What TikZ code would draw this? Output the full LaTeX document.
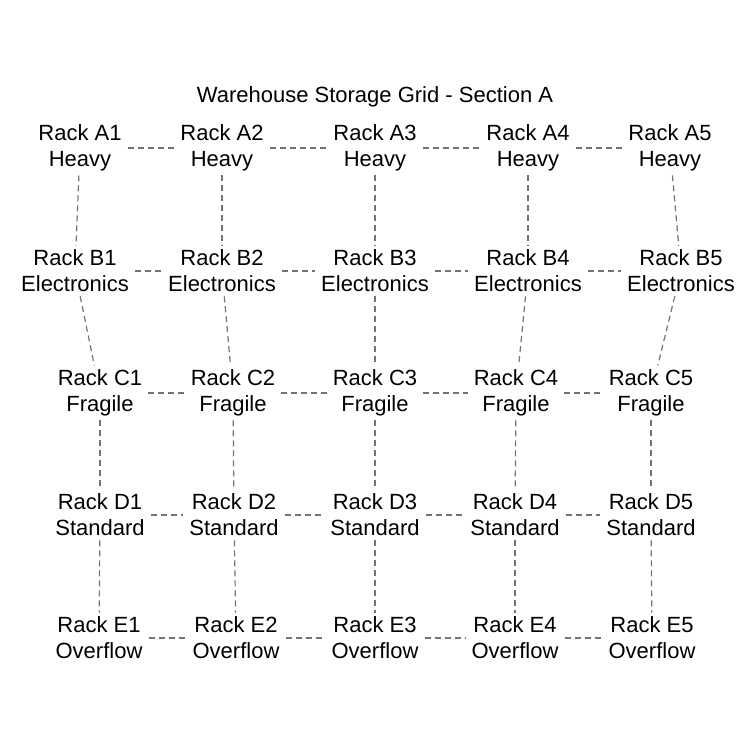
\documentclass[tikz,border=0pt]{standalone}
\usepackage{fontspec}
\setmainfont{Liberation Sans}
\begin{document}
\begin{tikzpicture}[x=1pt,y=-1pt,
  rack/.style={align=center,inner xsep=6pt,inner ysep=4pt,font=\fontsize{22}{26}\selectfont},
  link/.style={draw=black!55,dash pattern=on 6pt off 4pt,line width=1.2pt}]
\useasboundingbox (0,0) rectangle (750,750);
\node[font=\fontsize{22}{26}\selectfont] (title) at (375,97) {Warehouse Storage Grid - Section A};
\foreach \r/\lab/\y/\xs in {A/Heavy/148/{80,222,375,528,670},
  B/Electronics/271/{75,222,375,528,681},
  C/Fragile/393/{100,233,375,516,651},
  D/Standard/515/{100,234,375,515,651},
  E/Overflow/638/{99,236,375,515,652}}{
  \foreach \x [count=\i] in \xs {
    \node[rack] (\r\i) at (\x,\y) {Rack \r\i\\\lab};
  }
}
\foreach \r in {A,B,C,D,E}{
  \foreach \i/\j in {1/2,2/3,3/4,4/5}{
    \draw[link] (\r\i) -- (\r\j);
  }
}
\foreach \r/\s in {A/B,B/C,C/D,D/E}{
  \foreach \i in {1,...,5}{
    \draw[link] (\r\i) -- (\s\i);
  }
}
\end{tikzpicture}
\end{document}
